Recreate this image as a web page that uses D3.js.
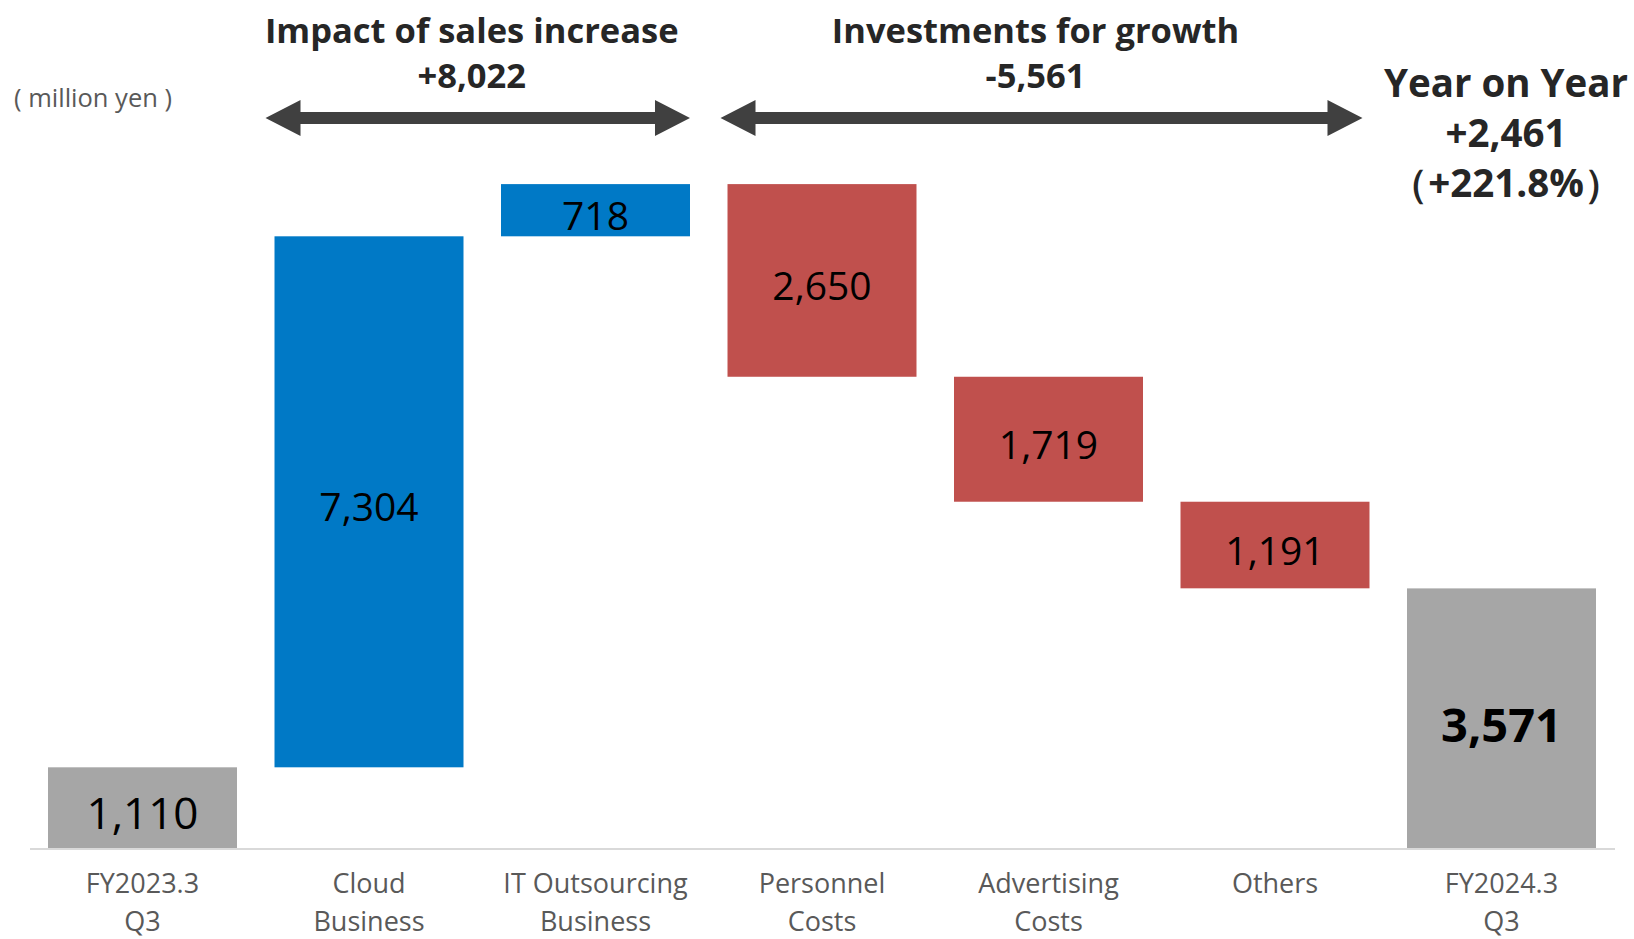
<!DOCTYPE html>
<html>
<head>
<meta charset="utf-8">
<script src="https://cdn.jsdelivr.net/npm/d3@7"></script>
<style>
  html, body { margin: 0; padding: 0; background: #ffffff; }
  svg { display: block; }
</style>
</head>
<body>
<svg id="chart" width="1634" height="939"></svg>
<script>
// Operating profit bridge (million yen)
const categoryLines = [
  ["FY2023.3", "Q3"],
  ["Cloud", "Business"],
  ["IT Outsourcing", "Business"],
  ["Personnel", "Costs"],
  ["Advertising", "Costs"],
  ["Others"],
  ["FY2024.3", "Q3"]
];
const values = [1110, 7304, 718, -2650, -1719, -1191, 3571];
const kinds = ["total", "increase", "increase", "decrease", "decrease", "decrease", "total"];

const groupTitles = ["Impact of sales increase", "Investments for growth"];
const groupValues = ["+8,022", "-5,561"];
const groupSpans = [[1, 2], [3, 5]];

const summaryLines = ["Year on Year", "+2,461", "（+221.8%）"];
const unitLabel = "( million yen )";

const colors = { total: "#a6a6a6", increase: "#0079c6", decrease: "#c0504d" };
const FONT = "'Open Sans', 'Noto Sans', sans-serif";

const svg = d3.select("#chart");

// Running bases for the floating bars
let running = 0;
const bars = values.map((v, i) => {
  let lo, hi;
  if (kinds[i] === "total") {
    lo = 0; hi = v; running = v;
  } else {
    const next = running + v;
    lo = Math.min(running, next); hi = Math.max(running, next);
    running = next;
  }
  return { i, v, kind: kinds[i], lo, hi };
});

const x = d3.scaleBand()
  .domain(d3.range(values.length))
  .range([29.25, 1614.75])
  .paddingInner(0.1656)
  .paddingOuter(0.0828);

const y = d3.scaleLinear().domain([0, 10000]).range([848, 121]);

// Bars
svg.append("g").selectAll("rect").data(bars).join("rect")
  .attr("x", d => x(d.i))
  .attr("width", x.bandwidth())
  .attr("y", d => y(d.hi))
  .attr("height", d => y(d.lo) - y(d.hi))
  .attr("fill", d => colors[d.kind]);

// Value labels inside bars
const fmt = d3.format(",");
svg.append("g").selectAll("text").data(bars).join("text")
  .attr("x", d => x(d.i) + x.bandwidth() / 2)
  .attr("y", d => (y(d.lo) + y(d.hi)) / 2)
  .attr("dy", d => d.i === 0 ? "0.48em" : "0.5em")
  .attr("text-anchor", "middle")
  .attr("font-family", FONT)
  .attr("font-size", d => d.i === 0 ? 44 : (d.i === 6 ? 47 : 39))
  .attr("font-weight", d => d.i === 6 ? 700 : 400)
  .attr("fill", "#000")
  .text(d => fmt(Math.abs(d.v)));

// Baseline
svg.append("line")
  .attr("x1", 30).attr("x2", 1615)
  .attr("y1", y(0) + 1).attr("y2", y(0) + 1)
  .attr("stroke", "#d9d9d9").attr("stroke-width", 2);

// Category labels
const cat = svg.append("g").selectAll("text").data(categoryLines).join("text")
  .attr("text-anchor", "middle")
  .attr("font-family", FONT)
  .attr("font-size", 27)
  .attr("fill", "#595959");
cat.selectAll("tspan").data((d, i) => d.map(t => ({ t, i }))).join("tspan")
  .attr("x", d => x(d.i) + x.bandwidth() / 2)
  .attr("y", (d, j) => 893 + j * 38)
  .text(d => d.t);

// Unit label
svg.append("text")
  .attr("x", 14).attr("y", 107)
  .attr("font-family", FONT).attr("font-size", 25.5)
  .attr("fill", "#595959")
  .text(unitLabel);

// Group arrows with titles
const arrowY = 118, shaft = 12, headLen = 35, headHalf = 18;
const arrowInsets = [[-9, 0], [-7, -7]];
groupSpans.forEach(([a, b], k) => {
  const x0 = x(a) + arrowInsets[k][0];
  const x1 = x(b) + x.bandwidth() + arrowInsets[k][1];
  const pts = [
    [x0, arrowY],
    [x0 + headLen, arrowY - headHalf],
    [x0 + headLen, arrowY - shaft / 2],
    [x1 - headLen, arrowY - shaft / 2],
    [x1 - headLen, arrowY - headHalf],
    [x1, arrowY],
    [x1 - headLen, arrowY + headHalf],
    [x1 - headLen, arrowY + shaft / 2],
    [x0 + headLen, arrowY + shaft / 2],
    [x0 + headLen, arrowY + headHalf]
  ];
  svg.append("path")
    .attr("d", d3.line()(pts) + "Z")
    .attr("fill", "#404040");

  const cx = (x0 + x1) / 2 - 6;
  const t = svg.append("text")
    .attr("text-anchor", "middle")
    .attr("font-family", FONT)
    .attr("font-weight", 700)
    .attr("font-size", 34.5)
    .attr("fill", "#262626");
  t.append("tspan").attr("x", cx).attr("y", 43).text(groupTitles[k]);
  t.append("tspan").attr("x", cx).attr("y", 88).text(groupValues[k]);
});

// Year-on-year summary
const s = svg.append("text")
  .attr("text-anchor", "middle")
  .attr("font-family", FONT)
  .attr("font-weight", 700)
  .attr("font-size", 38.5)
  .attr("fill", "#262626");
summaryLines.forEach((line, j) => {
  s.append("tspan").attr("x", 1506).attr("y", 97 + j * 50).text(line);
});
</script>
</body>
</html>
